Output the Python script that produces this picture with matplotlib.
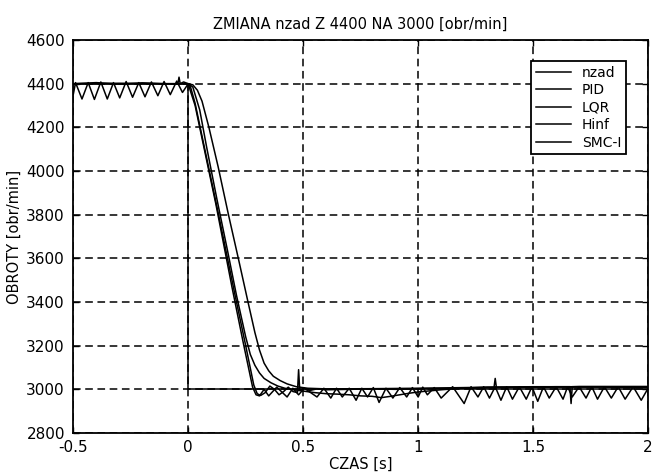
import matplotlib
matplotlib.use("Agg")
import matplotlib.pyplot as plt

plt.rcParams['font.family'] = ['DejaVu Sans']

# reference speed
t_nzad = [-0.5, 0.0, 0.0, 2.0]
v_nzad = [4400, 4400, 3000, 3000]

# PID - slowest response
t_pid = [-0.5, -0.3, -0.12, 0.0, 0.02, 0.04, 0.06, 0.09, 0.13, 0.175, 0.22, 0.26, 0.29,
         0.31, 0.33, 0.35, 0.37, 0.40, 0.43, 0.47, 0.52, 0.60, 0.80, 1.00, 1.20, 1.33,
         1.335, 1.34, 1.40, 1.60, 1.80, 2.00]
v_pid = [4400, 4402, 4400, 4400, 4395, 4370, 4320, 4200, 4020, 3800, 3590, 3400, 3260,
         3180, 3120, 3085, 3060, 3040, 3025, 3012, 3005, 3002, 3003, 3005, 3008, 3010,
         3050, 3010, 3010, 3012, 3012, 3012]

# LQR - second slow response, drifts below 3000
t_lqr = [-0.5, 0.0, 0.02, 0.05, 0.08, 0.125, 0.17, 0.21, 0.25, 0.27, 0.29, 0.31, 0.33,
         0.36, 0.39, 0.42, 0.46, 0.50, 0.55, 0.60, 0.65, 0.70, 0.75, 0.80, 0.84, 0.88,
         0.92, 0.96, 1.00, 1.05, 1.10, 1.15, 1.20, 1.30, 1.50, 1.66, 1.665, 1.67, 1.70, 2.00]
v_lqr = [4400, 4400, 4385, 4280, 4110, 3870, 3640, 3430, 3240, 3160, 3110, 3075, 3050,
         3030, 3015, 3005, 2998, 2992, 2985, 2980, 2978, 2975, 2970, 2968, 2962, 2968,
         2975, 2982, 2988, 2993, 2998, 3002, 3006, 3010, 3012, 3012, 2935, 3012, 3013, 3013]

# Hinf - fast, small decaying ripple
t_hinf = [-0.5, -0.4, -0.3, -0.2, -0.1, -0.045, -0.04, -0.035, -0.02, 0.0, 0.01, 0.03,
          0.08, 0.13, 0.20, 0.25, 0.285, 0.30, 0.315, 0.335, 0.355, 0.375, 0.395, 0.415,
          0.435, 0.455, 0.475, 0.48, 0.485, 0.50, 0.53, 0.56, 0.60, 0.70, 0.80, 0.90,
          1.00, 1.20, 1.40, 1.60, 1.80, 2.00]
v_hinf = [4400, 4405, 4398, 4404, 4400, 4400, 4430, 4400, 4408, 4400, 4385, 4310,
          4060, 3810, 3450, 3200, 3020, 2980, 2972, 2985, 3015, 3000, 2975, 2990,
          3010, 2990, 2985, 3090, 2995, 3005, 2995, 3002, 2998, 3000, 3002, 3000,
          3003, 3005, 3008, 3010, 3010, 3008]

# SMC-I - fast, with steady ripple
t_smc = [-0.5, -0.49, -0.462, -0.435, -0.408, -0.38, -0.352, -0.325, -0.298, -0.27,
         -0.242, -0.215, -0.188, -0.16, -0.132, -0.105, -0.078, -0.05, -0.025, 0.0,
         0.01, 0.03, 0.07, 0.12, 0.19, 0.24, 0.28, 0.295, 0.31,
         0.33, 0.35, 0.385, 0.43, 0.455, 0.48, 0.505, 0.56, 0.59, 0.62, 0.645, 0.67,
         0.70, 0.73, 0.755, 0.78, 0.805, 0.83, 0.86, 0.89, 0.92, 0.95, 0.975, 1.0,
         1.02, 1.04, 1.07, 1.10, 1.15, 1.20, 1.23, 1.26, 1.285, 1.31, 1.335, 1.36,
         1.385, 1.41, 1.44, 1.47, 1.495, 1.52, 1.545, 1.57, 1.60, 1.63, 1.65, 1.67,
         1.70, 1.73, 1.755, 1.78, 1.81, 1.84, 1.87, 1.90, 1.935, 1.97, 2.0]
v_smc = [4350, 4405, 4330, 4405, 4328, 4408, 4330, 4405, 4335, 4410, 4338, 4405,
         4340, 4408, 4345, 4410, 4350, 4412, 4360, 4400,
         4365, 4300, 4100, 3850, 3470, 3210, 3010, 2975, 2970,
         3000, 2970, 3010, 2965, 3005, 2975, 3005, 2965, 3005, 2960, 3005, 2965,
         3005, 2950, 3005, 2965, 3008, 2940, 3005, 2960, 3008, 2965, 3008, 2965,
         3010, 2975, 3008, 2960, 3012, 2935, 3012, 2965, 3012, 2960, 3012, 2950,
         3012, 2955, 3012, 2955, 3012, 2945, 3012, 2960, 3012, 2955, 3012, 2965,
         3012, 2960, 3012, 2955, 3012, 2960, 3012, 2955, 3012, 2950, 3005]

x_ticks = [-0.5, 0, 0.5, 1, 1.5, 2]
x_labels = ['-0.5', '0', '0.5', '1', '1.5', '2']
y_ticks = [2800, 3000, 3200, 3400, 3600, 3800, 4000, 4200, 4400, 4600]

fig = plt.figure(figsize=(6.54, 4.74), dpi=100)
ax = fig.add_axes([0.112, 0.0865, 0.879, 0.829])

lw = 1.1
ax.plot(t_nzad, v_nzad, color='k', lw=lw, label='nzad')
ax.plot(t_pid, v_pid, color='k', lw=lw, label='PID')
ax.plot(t_lqr, v_lqr, color='k', lw=lw, label='LQR')
ax.plot(t_hinf, v_hinf, color='k', lw=lw, label='Hinf')
ax.plot(t_smc, v_smc, color='k', lw=lw, label='SMC-I')

ax.set_xlim(-0.5, 2)
ax.set_ylim(2800, 4600)
ax.set_xticks(x_ticks)
ax.set_xticklabels(x_labels)
ax.set_yticks(y_ticks)
ax.tick_params(direction='in', length=4, width=1, top=True, right=True,
               labelsize=11, colors='k')
ax.tick_params(axis='x', pad=5)
ax.tick_params(axis='y', pad=6)
ax.grid(True, color='k', linestyle=(0, (5, 3)), linewidth=1.1)
for s in ax.spines.values():
    s.set_linewidth(1.3)
    s.set_color('k')

ax.set_title('ZMIANA nzad Z 4400 NA 3000 [obr/min]', fontsize=10.5, pad=8)
ax.set_xlabel('CZAS [s]', fontsize=10.5, labelpad=1)
ax.set_ylabel('OBROTY [obr/min]', fontsize=10.5, labelpad=3)

leg = ax.legend(loc='upper right', bbox_to_anchor=(0.962, 0.947), fontsize=10,
                frameon=True, fancybox=False, edgecolor='k', framealpha=1,
                handlelength=2.5, labelspacing=0.25, borderpad=0.35, handletextpad=0.8,
                borderaxespad=0)
leg.get_frame().set_linewidth(1.3)

fig.savefig('out.png', dpi=100)
